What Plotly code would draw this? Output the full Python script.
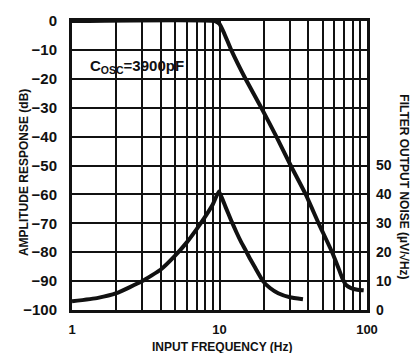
import plotly.graph_objects as go

# Amplitude response of the lowpass filter (dB vs input frequency in Hz)
amp_freq = [1, 9.3, 10.0, 10.7, 12.0, 15.0, 19.2, 24.3, 30.4, 38.4, 47.0, 58.0, 63.5, 68.0, 72.0, 78.0, 86.0, 95.0]
amp_db = [0, 0, -1, -4, -10, -20, -30, -40, -50, -60, -70, -80, -85, -89, -91.3, -92.4, -93.0, -93.2]

# Filter output noise (uV/sqrt(Hz)) vs input frequency
noise_freq = [1, 1.5, 2, 3, 4, 5, 6, 7, 8, 9, 9.9,
              10.5, 11, 12, 13, 14, 15, 16, 17.5, 19.7, 22, 25, 30, 36.8]
noise_val = [3.0, 4.2, 5.8, 10.0, 14.0, 18.8, 23.4, 28.0, 32.3, 36.5, 41.0,
             38.2, 35.6, 31.0, 27.0, 23.6, 20.8, 18.0, 14.5, 10.0, 7.6, 5.8, 4.4, 3.7]

left_ticks = [0, -10, -20, -30, -40, -50, -60, -70, -80, -90, -100]
left_text = ["0"] + ["\u2212" + str(-v) for v in left_ticks[1:]]
right_ticks = [0, 10, 20, 30, 40, 50]
x_major = [1, 10, 100]
x_text = ["1", "10", "100"]
x_minor = [m * d for d in (1, 10) for m in range(2, 10)]

FONT = "Liberation Sans, Arial, sans-serif"
INK = "#111111"

fig = go.Figure()
fig.add_trace(go.Scatter(x=amp_freq, y=amp_db, mode="lines",
                         line=dict(color=INK, width=4, shape="spline", smoothing=0.4),
                         yaxis="y", hoverinfo="skip"))
fig.add_trace(go.Scatter(x=noise_freq, y=noise_val, mode="lines",
                         line=dict(color=INK, width=4, shape="spline", smoothing=0.4),
                         yaxis="y2", hoverinfo="skip"))

fig.update_layout(
    width=411, height=353,
    margin=dict(l=72, r=44, t=15, b=43),
    paper_bgcolor="white", plot_bgcolor="white",
    showlegend=False,
    font=dict(family=FONT, color=INK, size=14, weight="bold"),
    xaxis=dict(
        type="log", range=[0, 2],
        tickvals=x_major, ticktext=x_text,
        showgrid=True, gridcolor=INK, gridwidth=1.6,
        minor=dict(tickvals=x_minor, showgrid=True, gridcolor=INK, gridwidth=1.6, ticks=""),
        showline=True, linecolor=INK, linewidth=3, mirror=True,
        ticks="", ticklabelstandoff=5,
        tickfont=dict(family=FONT, size=13, weight="bold"),
        zeroline=False,
    ),
    yaxis=dict(
        range=[-100, 0],
        tickvals=left_ticks, ticktext=left_text,
        showgrid=True, gridcolor=INK, gridwidth=1.6,
        showline=True, linecolor=INK, linewidth=3, mirror=True,
        ticks="", ticklabelstandoff=9,
        tickfont=dict(family=FONT, size=15, weight="bold"),
        zeroline=False,
    ),
    yaxis2=dict(
        range=[0, 100], overlaying="y", side="right",
        tickvals=right_ticks, ticktext=[str(v) for v in right_ticks],
        showgrid=False, showline=False, zeroline=False,
        ticks="", ticklabelstandoff=8,
        tickfont=dict(family=FONT, size=14, weight="bold"),
    ),
    annotations=[
        dict(text="AMPLITUDE RESPONSE (dB)", xref="paper", yref="paper",
             x=-0.165, y=0.475, xanchor="center", yanchor="middle",
             textangle=-90, showarrow=False,
             font=dict(family=FONT, size=12, weight="bold")),
        dict(text="FILTER OUTPUT NOISE (\u00b5V/\u221aHz)", xref="paper", yref="paper",
             x=1.125, y=0.425, xanchor="center", yanchor="middle",
             textangle=90, showarrow=False,
             font=dict(family=FONT, size=12, weight="bold")),
        dict(text="INPUT FREQUENCY (Hz)", xref="paper", yref="paper",
             x=0.508, y=-0.128, xanchor="center", yanchor="middle", showarrow=False,
             font=dict(family=FONT, size=12, weight="bold")),
        dict(text="C<sub>OSC</sub>=3900pF", xref="paper", yref="paper",
             x=0.22, y=0.841, xanchor="center", yanchor="middle", showarrow=False,
             font=dict(family=FONT, size=15, weight="bold")),
    ],
)

fig.write_html("out.html")
